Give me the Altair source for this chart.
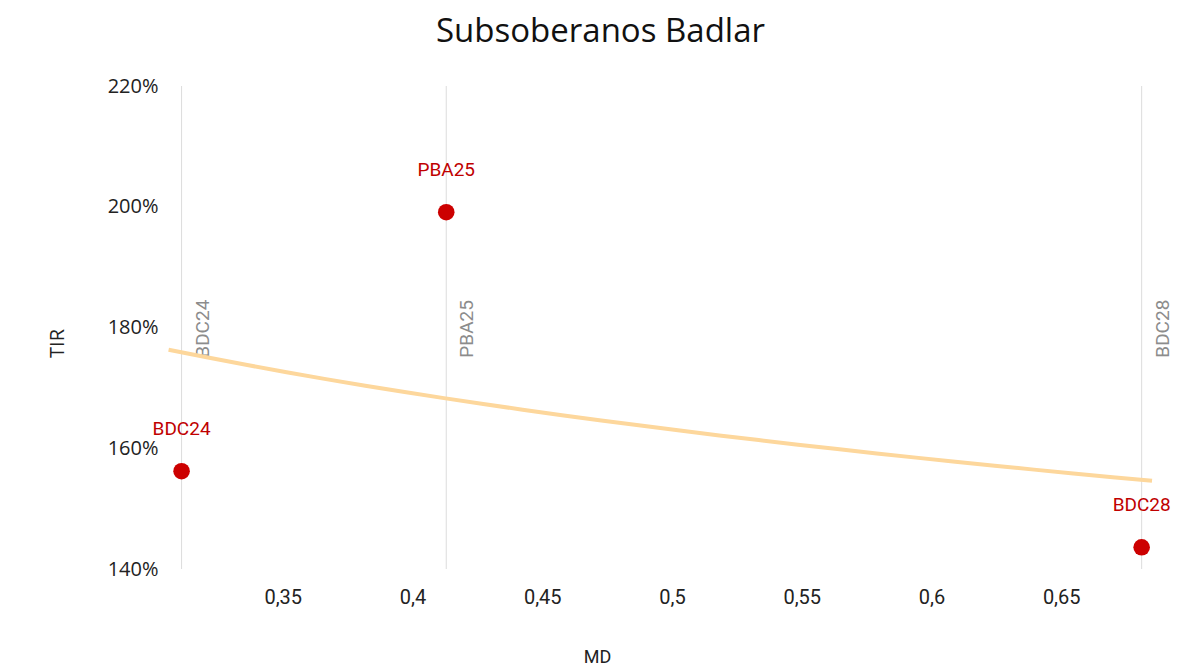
import altair as alt
import pandas as pd

bonds = ["BDC24", "PBA25", "BDC28"]
md = [0.311, 0.413, 0.681]
tir = [1.562, 1.991, 1.436]
x_ticks = [0.35, 0.40, 0.45, 0.50, 0.55, 0.60, 0.65]
y_ticks = [1.4, 1.6, 1.8, 2.0, 2.2]

df = pd.DataFrame({"bono": bonds, "MD": md, "TIR": tir})

xs = alt.Scale(domain=[0.305, 0.69], nice=False, zero=False)
ys = alt.Scale(domain=[1.4, 2.2], nice=False, zero=False)

x_axis = alt.Axis(
    values=x_ticks, grid=False, domain=False, ticks=False, labelPadding=18,
    labelFont="Roboto", labelFontSize=20, labelColor="#222222",
    labelExpr="replace(format(datum.value, '.2~f'), '.', ',')",
    title="MD", titleFont="Roboto", titleFontSize=18, titleFontWeight="normal",
    titleColor="#222222", titleX=431, titleY=88, titleBaseline="middle",
)
y_axis = alt.Axis(
    values=y_ticks, format=".0%", grid=False, domain=False, ticks=False,
    labelPadding=8, labelFont="Open Sans", labelFontSize=20, labelColor="#222222",
    title="TIR", titleFont="Open Sans", titleFontSize=20, titleFontWeight="normal",
    titleColor="#222222", titleX=-109, titleY=257, titleBaseline="middle",
    titleAngle=270, titleAlign="center",
)

base = alt.Chart(df)

rules = base.mark_rule(color="#dcdcdc", strokeWidth=1).encode(
    x=alt.X("MD:Q", scale=xs, axis=x_axis)
)

rule_text = base.mark_text(
    angle=270, align="left", baseline="top", dy=12,
    font="Roboto", fontSize=19, color="#8c8c8c",
).encode(
    x=alt.X("MD:Q", scale=xs),
    y=alt.datum(1.75, scale=ys),
    text="bono:N",
)

trend = base.transform_regression(
    "MD", "TIR", method="log", extent=[0.306, 0.685]
).mark_line(color="#fdd79c", strokeWidth=4).encode(
    x=alt.X("MD:Q", scale=xs),
    y=alt.Y("TIR:Q", scale=ys, axis=y_axis),
)

points = base.mark_circle(size=275, color="#cc0000", opacity=1).encode(
    x=alt.X("MD:Q", scale=xs),
    y=alt.Y("TIR:Q", scale=ys),
)

labels = base.mark_text(
    baseline="alphabetic", align="center", dy=-36,
    font="Roboto", fontSize=19, color="#c00000",
).encode(
    x=alt.X("MD:Q", scale=xs),
    y=alt.Y("TIR:Q", scale=ys),
    text="bono:N",
)

chart = alt.layer(rules, rule_text, trend, points, labels).properties(
    width=999,
    height=483,
    title=alt.TitleParams(
        "Subsoberanos Badlar", font="Open Sans", fontSize=33, fontWeight="normal",
        color="#111111", anchor="middle", dx=-65, offset=27,
    ),
    autosize=alt.AutoSizeParams(type="none"),
    padding={"left": 158, "top": 78, "right": 30, "bottom": 98},
).configure(background="white").configure_view(stroke=None)

chart.save("out.html", embed_options={"renderer": "svg", "actions": False})
